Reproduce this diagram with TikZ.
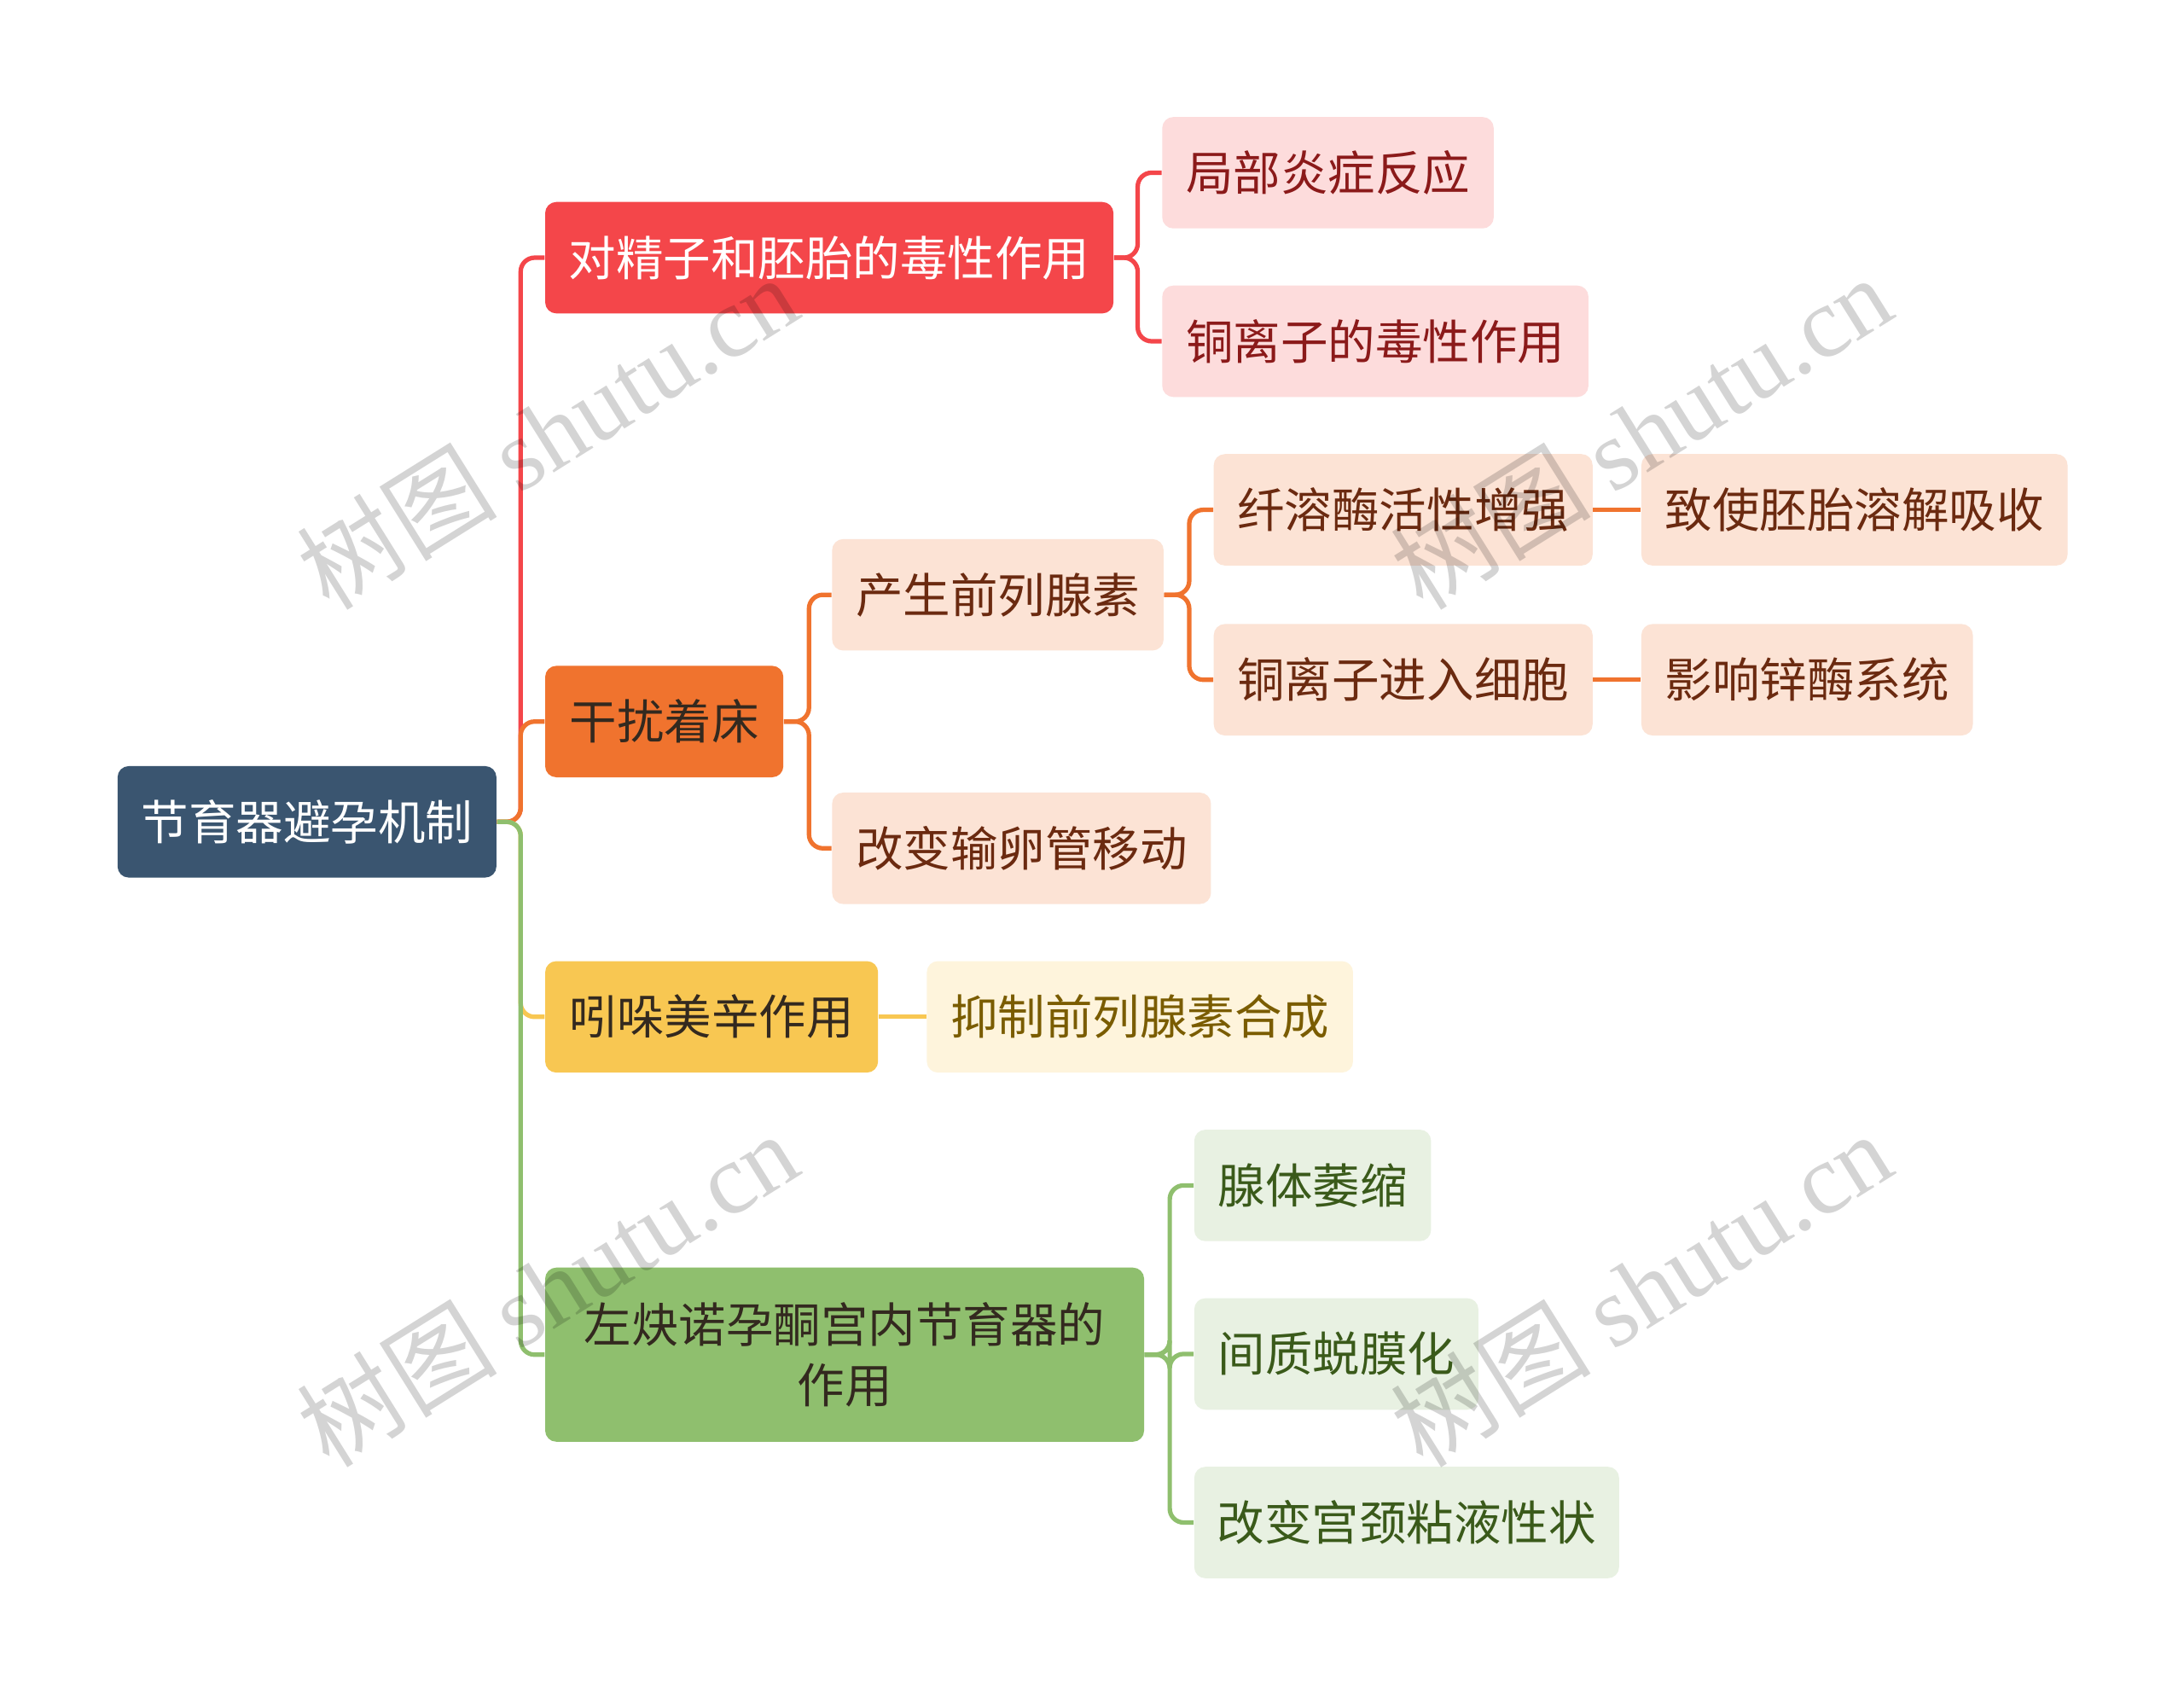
\documentclass[tikz,border=0pt]{standalone}
\usepackage{fontspec}
\setmainfont{Noto Sans CJK SC}
\newfontfamily\cjk{Noto Sans CJK SC}
\newfontfamily\wmfont{Liberation Serif}
\definecolor{rootc}{HTML}{3A5570}
\definecolor{redc}{HTML}{F4464A}
\definecolor{orangec}{HTML}{F0732E}
\definecolor{yellowc}{HTML}{F8C752}
\definecolor{greenc}{HTML}{8FBF6E}
\definecolor{pinkc}{HTML}{FDDCDC}
\definecolor{pinkt}{HTML}{8B1A1A}
\definecolor{peachc}{HTML}{FCE3D5}
\definecolor{peacht}{HTML}{6B2A10}
\definecolor{creamc}{HTML}{FEF4DC}
\definecolor{creamt}{HTML}{7A5C00}
\definecolor{lgreenc}{HTML}{E8F1E2}
\definecolor{lgreent}{HTML}{3A5A1A}
\definecolor{darkt}{HTML}{33291F}
\tikzset{
  box/.style={rectangle, rounded corners=4pt, anchor=west, minimum height=40pt,
    inner sep=0pt, font=\fontsize{17}{21.5}\selectfont, align=center},
  conn/.style={line width=1.6pt, rounded corners=5pt},
  wm/.style={text=black, opacity=0.17, rotate=32, inner sep=0pt}
}
\begin{document}
\begin{tikzpicture}[x=0.5pt,y=-0.5pt]
\useasboundingbox (0,0) rectangle (1568,1218.2);
\fill[white] (0,0) rectangle (1568,1218.2);

% nodes
\node[box, fill=rootc, text=white, minimum width=136pt] (root) at (84,590) {节育器避孕机制};
\node[box, fill=redc, text=white, minimum width=204pt] (n1) at (391,185) {对精子和胚胎的毒性作用};
\node[box, fill=orangec, text=darkt, minimum width=85.5pt] (n2) at (391,518) {干扰着床};
\node[box, fill=yellowc, text=darkt, minimum width=119.5pt] (n3) at (391,730) {吲哚美辛作用};
\node[box, fill=greenc, text=darkt, minimum width=215pt, minimum height=62.5pt] (n4) at (391,972.5) {左炔诺孕酮宫内节育器的\\作用};

\node[box, fill=pinkc, text=pinkt, minimum width=119pt] (a1) at (834,124) {局部炎症反应};
\node[box, fill=pinkc, text=pinkt, minimum width=153pt] (a2) at (834,245) {铜离子的毒性作用};

\node[box, fill=peachc, text=peacht, minimum width=119pt] (b1) at (597,427) {产生前列腺素};
\node[box, fill=peachc, text=peacht, minimum width=136pt] (b2) at (597,609) {改变输卵管移动};
\node[box, fill=peachc, text=peacht, minimum width=136pt] (c1) at (871,366) {纤溶酶活性增强};
\node[box, fill=peachc, text=peacht, minimum width=136pt] (c2) at (871,488) {铜离子进入细胞};
\node[box, fill=peachc, text=peacht, minimum width=153pt] (d1) at (1178,366) {致使胚胎溶解吸收};
\node[box, fill=peachc, text=peacht, minimum width=119pt] (d2) at (1178,488) {影响锌酶系统};

\node[box, fill=creamc, text=creamt, minimum width=153pt] (e1) at (665,730) {抑制前列腺素合成};

\node[box, fill=lgreenc, text=lgreent, minimum width=85pt] (f1) at (857,851) {腺体萎缩};
\node[box, fill=lgreenc, text=lgreent, minimum width=102pt] (f2) at (857,972) {间质蜕膜化};
\node[box, fill=lgreenc, text=lgreent, minimum width=152.5pt] (f3) at (857,1093) {改变宫颈粘液性状};

% connectors
\draw[conn, redc] (root.east) -- ++(17,0) |- (n1.west);
\draw[conn, orangec] (root.east) -- ++(17,0) |- (n2.west);
\draw[conn, yellowc] (root.east) -- ++(17,0) |- (n3.west);
\draw[conn, greenc] (root.east) -- ++(17,0) |- (n4.west);

\draw[conn, redc] (n1.east) -- ++(17,0) |- (a1.west);
\draw[conn, redc] (n1.east) -- ++(17,0) |- (a2.west);

\draw[conn, orangec] (n2.east) -- ++(18,0) |- (b1.west);
\draw[conn, orangec] (n2.east) -- ++(18,0) |- (b2.west);
\draw[conn, orangec] (b1.east) -- ++(18,0) |- (c1.west);
\draw[conn, orangec] (b1.east) -- ++(18,0) |- (c2.west);
\draw[conn, orangec] (c1.east) -- (d1.west);
\draw[conn, orangec] (c2.east) -- (d2.west);

\draw[conn, yellowc] (n3.east) -- (e1.west);

\draw[conn, greenc] (n4.east) -- ++(18,0) |- (f1.west);
\draw[conn, greenc] (n4.east) -- ++(18,0) |- (f2.west);
\draw[conn, greenc] (n4.east) -- ++(18,0) |- (f3.west);

% watermarks
\foreach \wx/\wy [count=\i] in {393/310, 1178/310, 393/925, 1178/925}
  \node[wm] (wm\i) at (\wx,\wy) {\fontsize{36}{36}\selectfont{\cjk 树图} {\wmfont shutu.cn}};
\end{tikzpicture}
\end{document}
